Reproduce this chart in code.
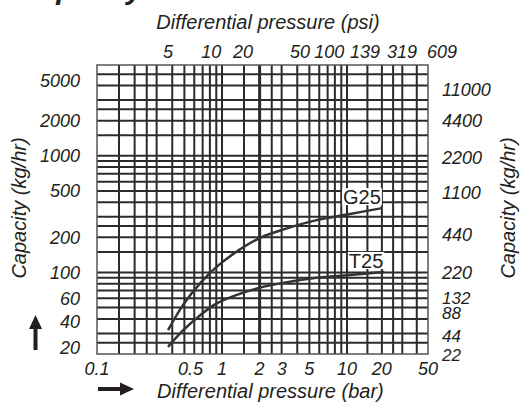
<!DOCTYPE html>
<html>
<head>
<meta charset="utf-8">
<script src="https://cdn.jsdelivr.net/npm/d3@7"></script>
<style>
  body { margin: 0; background: #fff; }
  svg { display: block; font-family: 'Liberation Sans', Arial, sans-serif; }
  text { fill: #231f20; }
</style>
</head>
<body>
<div id="chart"></div>
<script>
const width = 522;
const height = 402;
const plotLeft = 97;
const plotRight = 428;
const tenBarAt = 347; // the grid is a bit compressed after 10 bar
const plotTop = 65;
const plotBottom = 354;

const lineColor = '#2b2b2b';

// bottom axis (bar)
const barTicks = ['0.1', '0.5', '1', '2', '3', '5', '10', '20', '50'];
const barTickAt = [0.1, 0.56, 1, 2, 3, 5, 10, 20, 50];

// top axis (psi), labels sit where the drawing puts them
const psiTicks = ['5', '10', '20', '50', '100', '139', '319', '609'];
const psiTickAt = [0.37, 0.82, 1.47, 4.2, 7.2, 14.3, 29.8, 66];

// left axis
const leftTicks = ['5000', '2000', '1000', '500', '200', '100', '60', '40', '20'];
const leftTickAt = [4400, 2000, 1000, 500, 200, 100, 60, 38, 22.5];

// right axis
const rightTicks = ['11000', '4400', '2200', '1100', '440', '220', '132', '88', '44', '22'];
const rightTickAt = [3650, 2000, 960, 480, 210, 100, 60, 45, 28.5, 19.6];

// grid
const gridSteps = [1, 1.5, 2, 2.5, 3, 4, 5, 6, 7, 8, 9];
const xDecades = [0.1, 1, 10];
const yDecades = [10, 100, 1000];

// curves
const g25Bar = [0.37, 0.49, 0.67, 0.9, 1.3, 2, 3, 5.7, 10.6, 20];
const g25Cap = [32, 53, 81, 111, 150, 197, 231, 281, 317, 356];
const t25Bar = [0.37, 0.49, 0.67, 0.9, 1.3, 2, 3, 5.7, 10.6, 21];
const t25Cap = [23, 32, 43, 54, 64, 74, 81, 90, 95, 101];

const svg = d3
  .select('#chart')
  .append('svg')
  .attr('width', width)
  .attr('height', height);

const xScale = d3
  .scaleLog()
  .domain([0.1, 10, 50])
  .range([plotLeft, tenBarAt, plotRight]);

const yScale = d3
  .scaleLog()
  .domain([20, 6000])
  .range([plotBottom, plotTop]);

// cut-off heading at the very top
svg
  .append('text')
  .attr('x', 18)
  .attr('y', -1)
  .style('font-size', '30px')
  .style('font-weight', 'bold')
  .style('font-style', 'italic')
  .text('Capacity');

// grid lines
const gridValues = (decades, lo, hi) =>
  decades
    .flatMap((d) => gridSteps.map((s) => +(d * s).toPrecision(3)))
    .filter((v) => v > lo && v < hi);

const xGrid = gridValues(xDecades, 0.1, 50);
const yGrid = gridValues(yDecades, 20, 6000);

const grid = svg.append('g').attr('stroke', lineColor);

grid
  .selectAll('line.v')
  .data(xGrid)
  .enter()
  .append('line')
  .attr('class', 'v')
  .attr('x1', (d) => xScale(d))
  .attr('x2', (d) => xScale(d))
  .attr('y1', plotTop)
  .attr('y2', plotBottom)
  .attr('stroke-width', (d) => (d === 2 ? 3 : 2));

grid
  .selectAll('line.h')
  .data(yGrid)
  .enter()
  .append('line')
  .attr('class', 'h')
  .attr('x1', plotLeft)
  .attr('x2', plotRight)
  .attr('y1', (d) => yScale(d))
  .attr('y2', (d) => yScale(d))
  .attr('stroke-width', 2);

// frame
svg
  .append('rect')
  .attr('x', plotLeft)
  .attr('y', plotTop)
  .attr('width', plotRight - plotLeft)
  .attr('height', plotBottom - plotTop)
  .attr('fill', 'none')
  .attr('stroke', '#555')
  .attr('stroke-width', 1.5);

// curves
const line = d3
  .line()
  .x((d) => xScale(d[0]))
  .y((d) => yScale(d[1]))
  .curve(d3.curveCatmullRom.alpha(0.5));

const curves = [
  { name: 'G25', pts: d3.zip(g25Bar, g25Cap) },
  { name: 'T25', pts: d3.zip(t25Bar, t25Cap) },
];

curves.forEach((c) => {
  svg
    .append('path')
    .attr('d', line(c.pts))
    .attr('fill', 'none')
    .attr('stroke', '#333')
    .attr('stroke-width', 2.5);

  const last = c.pts[c.pts.length - 1];
  const lx = xScale(last[0]) - 1;
  const ly = yScale(last[1]) - 4;
  const label = svg
    .append('text')
    .attr('x', lx)
    .attr('y', ly)
    .attr('text-anchor', 'end')
    .style('font-size', '20px')
    .text(c.name);
  const bb = label.node().getBBox();
  svg
    .insert('rect', () => label.node())
    .attr('x', bb.x - 1)
    .attr('y', bb.y + 2)
    .attr('width', bb.width + 2)
    .attr('height', bb.height - 5)
    .attr('fill', '#fff');
});

// tick labels
const tickStyle = (sel) =>
  sel.style('font-size', '18px').style('font-style', 'italic');

svg
  .append('g')
  .selectAll('text')
  .data(barTicks)
  .enter()
  .append('text')
  .attr('x', (d, i) => xScale(barTickAt[i]))
  .attr('y', 375)
  .attr('text-anchor', 'middle')
  .call(tickStyle)
  .text((d) => d);

svg
  .append('g')
  .selectAll('text')
  .data(psiTicks)
  .enter()
  .append('text')
  .attr('x', (d, i) => xScale(psiTickAt[i]))
  .attr('y', 58)
  .attr('text-anchor', 'middle')
  .call(tickStyle)
  .text((d) => d);

svg
  .append('g')
  .selectAll('text')
  .data(leftTicks)
  .enter()
  .append('text')
  .attr('x', 80)
  .attr('y', (d, i) => yScale(leftTickAt[i]))
  .attr('dy', '0.35em')
  .attr('text-anchor', 'end')
  .call(tickStyle)
  .text((d) => d);

svg
  .append('g')
  .selectAll('text')
  .data(rightTicks)
  .enter()
  .append('text')
  .attr('x', 442)
  .attr('y', (d, i) => yScale(rightTickAt[i]))
  .attr('dy', '0.35em')
  .attr('text-anchor', 'start')
  .call(tickStyle)
  .style('font-size', (d, i) => (i >= 6 ? '17px' : '18px'))
  .text((d) => d);

// axis titles
const titleStyle = (sel) =>
  sel.style('font-size', '20px').style('font-style', 'italic');

svg
  .append('text')
  .attr('x', 268)
  .attr('y', 29)
  .attr('text-anchor', 'middle')
  .call(titleStyle)
  .text('Differential pressure (psi)');

svg
  .append('text')
  .attr('x', 157)
  .attr('y', 398)
  .call(titleStyle)
  .text('Differential pressure (bar)');

svg
  .append('text')
  .attr('transform', 'translate(26,208) rotate(-90)')
  .attr('text-anchor', 'middle')
  .call(titleStyle)
  .text('Capacity (kg/hr)');

svg
  .append('text')
  .attr('transform', 'translate(515,208) rotate(-90)')
  .attr('text-anchor', 'middle')
  .call(titleStyle)
  .text('Capacity (kg/hr)');

// arrows
svg
  .append('path')
  .attr('d', 'M33.5,350V329H29L35.5,315L42,329H37.5V350Z')
  .attr('fill', '#231f20');

svg
  .append('path')
  .attr('d', 'M98,387H120V382.5L134,389L120,395.5V391H98Z')
  .attr('fill', '#231f20');
</script>
</body>
</html>
